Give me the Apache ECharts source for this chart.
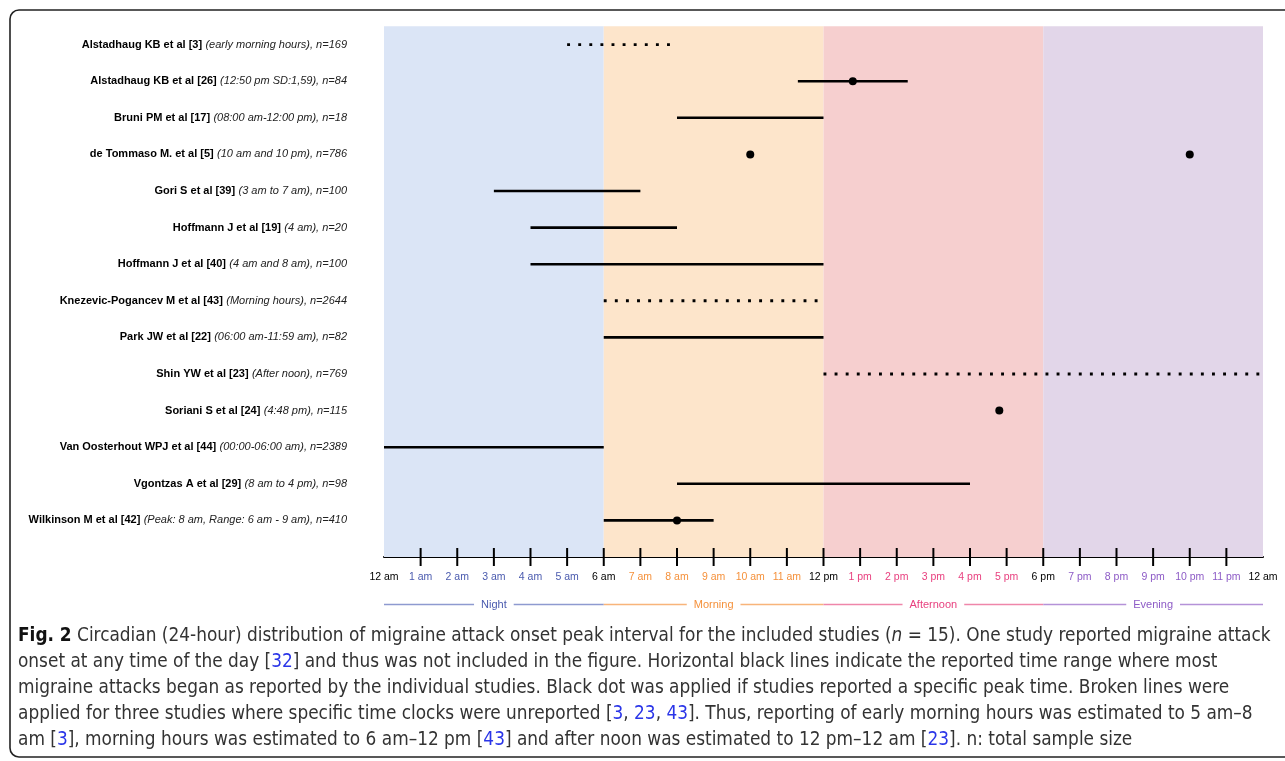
<!DOCTYPE html>
<html>
<head>
<meta charset="utf-8">
<script src="https://cdn.jsdelivr.net/npm/echarts@6/dist/echarts.min.js"></script>
<style>
html,body{margin:0;padding:0;background:#fff;}
#chart{width:1285px;height:761px;}
</style>
</head>
<body>
<div id="chart"></div>
<script>
// ---------- DATA ----------
const studyNames = [
  'Alstadhaug KB et al [3]', 'Alstadhaug KB et al [26]', 'Bruni PM et al [17]',
  'de Tommaso M. et al [5]', 'Gori S et al [39]', 'Hoffmann J et al [19]',
  'Hoffmann J et al [40]', 'Knezevic-Pogancev M et al [43]', 'Park JW et al [22]',
  'Shin YW et al [23]', 'Soriani S et al [24]', 'Van Oosterhout WPJ et al [44]',
  'Vgontzas A et al [29]', 'Wilkinson M et al [42]'
];
const studyDetails = [
  '(early morning hours), n=169', '(12:50 pm SD:1,59), n=84', '(08:00 am-12:00 pm), n=18',
  '(10 am and 10 pm), n=786', '(3 am to 7 am), n=100', '(4 am), n=20',
  '(4 am and 8 am), n=100', '(Morning hours), n=2644', '(06:00 am-11:59 am), n=82',
  '(After noon), n=769', '(4:48 pm), n=115', '(00:00-06:00 am), n=2389',
  '(8 am to 4 pm), n=98', '(Peak: 8 am, Range: 6 am - 9 am), n=410'
];
// ranges (row is 1-based study index)
const rangeRow    = [1, 2, 3, 5, 6, 7, 8, 9, 10, 12, 13, 14];
const rangeFrom   = [5, 11.3, 8, 3, 4, 4, 6, 6, 12, 0, 8, 6];
const rangeTo     = [8, 14.3, 12, 7, 8, 12, 12, 12, 24, 6, 16, 9];
const rangeDotted = [true, false, false, false, false, false, true, false, true, false, false, false];
// peak times
const peakRow  = [2, 4, 4, 11, 14];
const peakHour = [12.8, 10, 22, 16.8, 8];
// periods of the day
const periodNames = ['Night', 'Morning', 'Afternoon', 'Evening'];
const periodStart = [0, 6, 12, 18];
const periodEnd   = [6, 12, 18, 24];
// tick labels
const hourLabels = ['12 am','1 am','2 am','3 am','4 am','5 am','6 am','7 am','8 am','9 am','10 am','11 am',
  '12 pm','1 pm','2 pm','3 pm','4 pm','5 pm','6 pm','7 pm','8 pm','9 pm','10 pm','11 pm','12 am'];
const tickHours = [1,2,3,4,5,6,7,8,9,10,11,12,13,14,15,16,17,18,19,20,21,22,23];
// caption
const captionLines = [
  '{b|Fig. 2} Circadian (24-hour) distribution of migraine attack onset peak interval for the included studies ({it|n} = 15). One study reported migraine attack',
  'onset at any time of the day [{r|32}] and thus was not included in the figure. Horizontal black lines indicate the reported time range where most',
  'migraine attacks began as reported by the individual studies. Black dot was applied if studies reported a specific peak time. Broken lines were',
  'applied for three studies where specific time clocks were unreported [{r|3}, {r|23}, {r|43}]. Thus, reporting of early morning hours was estimated to 5 am–8',
  'am [{r|3}], morning hours was estimated to 6 am–12 pm [{r|43}] and after noon was estimated to 12 pm–12 am [{r|23}]. n: total sample size'
];

// ---------- STYLE ----------
const bandColors = ['#dbe5f6', '#fde5cb', '#f6cfcf', '#e2d6e9'];
const periodText = ['#4a5aae', '#f5913b', '#e8407f', '#8d5bc6'];
const periodLine = ['#8e9ad0', '#f8b47a', '#ef86aa', '#b592d8'];
const FONT = '"Liberation Sans", Arial, sans-serif';
const CAP_FONT = '"Liberation Sans Narrow", "DejaVu Sans Condensed", sans-serif';

// caption font size fitted to the measured width of line 1
const plain1 = captionLines[0].replace(/\{\w+\|([^}]*)\}/g, '$1');
const cv = document.createElement('canvas').getContext('2d');
cv.font = '100px ' + CAP_FONT;
let capSize = 100 * 1245 / cv.measureText(plain1).width;
capSize = Math.max(13, Math.min(20, capSize));

function periodOf(h) {
  if (h % 6 === 0) return 'k';
  return ['n', 'm', 'a', 'e'][Math.floor(h / 6)];
}

const chart = echarts.init(document.getElementById('chart'), null, {renderer: 'canvas'});

const XF = 10.5;
const option = {
  animation: false,
  backgroundColor: '#fff',
  grid: {left: 384, right: 22, top: 8, bottom: 204},
  xAxis: {
    type: 'value', min: 0, max: 24, interval: 1,
    axisLine: {show: true, onZero: false, lineStyle: {color: '#000', width: 2}},
    axisTick: {show: false},
    splitLine: {show: false},
    axisLabel: {
      margin: 15,
      fontFamily: FONT, fontSize: XF, color: '#000',
      formatter: function (v) { return '{' + periodOf(v) + '|' + hourLabels[v] + '}'; },
      rich: {
        k: {color: '#000', fontSize: XF, fontFamily: FONT},
        n: {color: periodText[0], fontSize: XF, fontFamily: FONT},
        m: {color: periodText[1], fontSize: XF, fontFamily: FONT},
        a: {color: periodText[2], fontSize: XF, fontFamily: FONT},
        e: {color: periodText[3], fontSize: XF, fontFamily: FONT}
      }
    }
  },
  yAxis: {
    type: 'value', min: 0, max: 15, interval: 1, inverse: true,
    axisLine: {show: false}, axisTick: {show: false}, splitLine: {show: false},
    axisLabel: {
      margin: 37,
      formatter: function (v) {
        if (v < 1 || v > studyNames.length) return '';
        return '{b|' + studyNames[v - 1] + '} {i|' + studyDetails[v - 1] + '}';
      },
      rich: {
        b: {fontWeight: 'bold', color: '#000', fontSize: 11, fontFamily: FONT},
        i: {fontStyle: 'italic', color: '#222', fontSize: 11, fontFamily: FONT}
      }
    }
  },
  series: [
    {
      type: 'custom', name: 'periods', z: 1, clip: false, silent: true,
      data: periodNames.map((n, i) => [periodStart[i], periodEnd[i]]),
      renderItem: function (params, api) {
        const i = params.dataIndex;
        const p0 = api.coord([api.value(0), 0.5]);
        const p1 = api.coord([api.value(1), 15]);
        const y = p1[1] + 47.5;
        return {
          type: 'group',
          children: [
            {type: 'rect', shape: {x: p0[0], y: p0[1], width: p1[0] - p0[0], height: p1[1] - p0[1]},
             style: {fill: bandColors[i]}},
            {type: 'line', shape: {x1: p0[0], y1: y, x2: p1[0], y2: y},
             style: {stroke: periodLine[i], lineWidth: 1.3}},
            {type: 'text', x: (p0[0] + p1[0]) / 2, y: y,
             style: {text: periodNames[i], fill: periodText[i], fontSize: 11, fontFamily: FONT,
                     align: 'center', verticalAlign: 'middle', backgroundColor: '#fff', padding: [1, 7]}}
          ]
        };
      }
    },
    {
      type: 'custom', name: 'ticks', z: 3, clip: false, silent: true,
      data: tickHours.map(h => [h]),
      renderItem: function (params, api) {
        const p = api.coord([api.value(0), 15]);
        return {type: 'line', shape: {x1: p[0], y1: p[1] - 9, x2: p[0], y2: p[1] + 9},
                style: {stroke: '#000', lineWidth: 2}};
      }
    },
    {
      type: 'custom', name: 'ranges', z: 4, clip: false, silent: true,
      data: rangeRow.map((r, i) => [rangeFrom[i], rangeTo[i], r, rangeDotted[i] ? 1 : 0]),
      renderItem: function (params, api) {
        const a = api.coord([api.value(0), api.value(2)]);
        const b = api.coord([api.value(1), api.value(2)]);
        const dotted = api.value(3) === 1;
        return {type: 'line', shape: {x1: a[0], y1: a[1], x2: b[0], y2: b[1]},
                style: {stroke: '#000', lineWidth: dotted ? 2.9 : 2.6,
                        lineDash: dotted ? [2.9, 8.2] : null, lineCap: 'butt'}};
      }
    },
    {
      type: 'scatter', name: 'peaks', z: 5, silent: true,
      symbol: 'circle', symbolSize: 8,
      itemStyle: {color: '#000', opacity: 1},
      data: peakRow.map((r, i) => [peakHour[i], r])
    }
  ],
  graphic: [
    {type: 'rect', z: 100, silent: true,
     shape: {x: 10, y: 10, width: 1400, height: 747, r: 9},
     style: {fill: 'none', stroke: '#222', lineWidth: 1.6}}
  ].concat(captionLines.map((t, i) => ({
    type: 'text', z: 100, silent: true,
    x: 18, y: 636 + i * 26,
    style: {
      text: t, fill: '#333', fontSize: capSize, fontFamily: CAP_FONT,
      verticalAlign: 'middle', align: 'left',
      rich: {
        b: {fontWeight: 'bold', fill: '#111', fontSize: capSize, fontFamily: CAP_FONT},
        r: {fill: '#2a35e8', fontSize: capSize, fontFamily: CAP_FONT},
        it: {fontStyle: 'italic', fill: '#333', fontSize: capSize, fontFamily: CAP_FONT}
      }
    }
  })))
};

chart.setOption(option);
</script>
</body>
</html>
